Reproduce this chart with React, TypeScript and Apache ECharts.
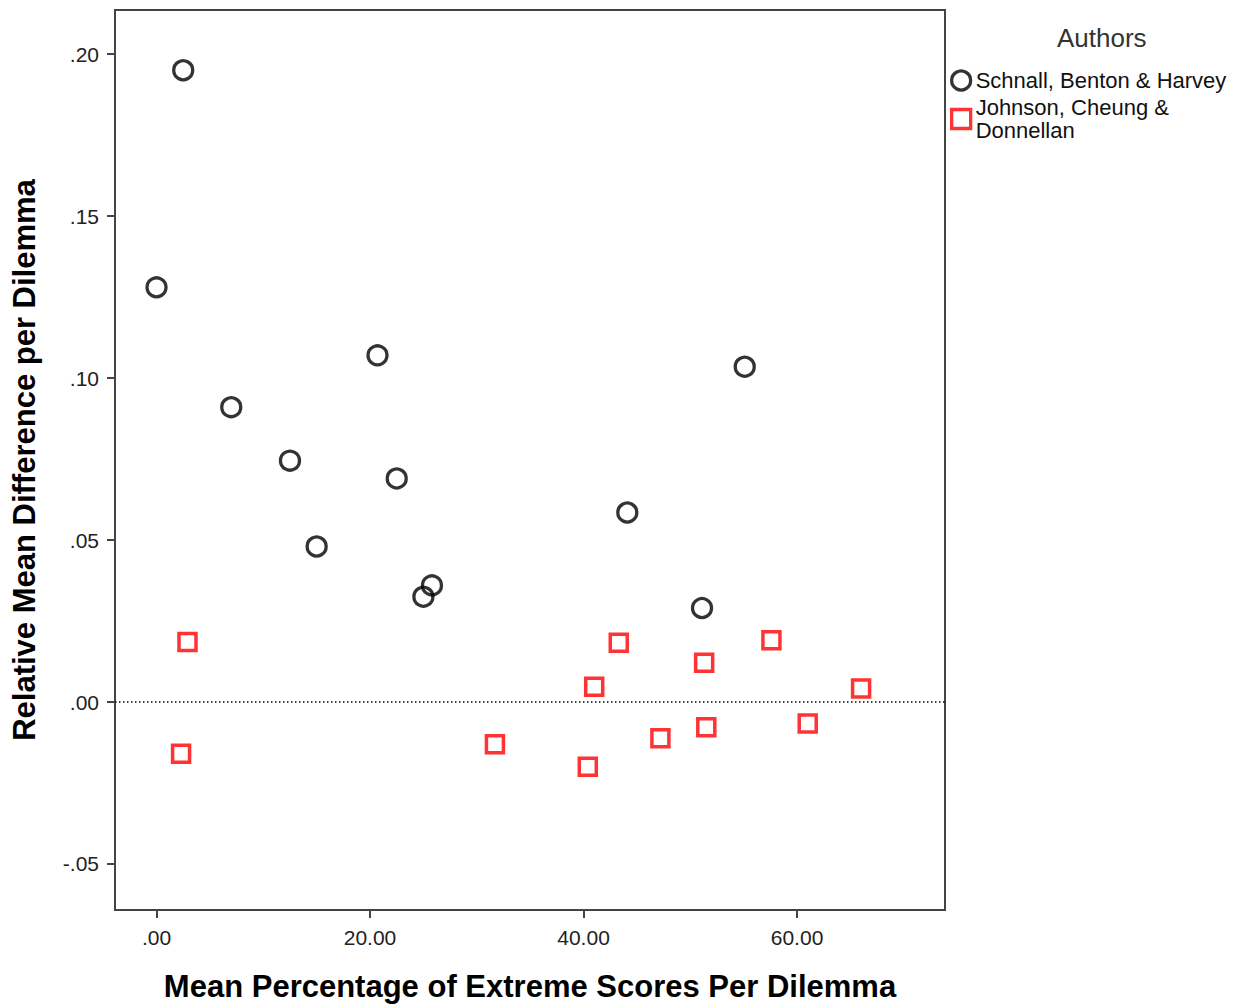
import React, { useEffect, useRef } from "react";
import * as echarts from "echarts";

const seriesNames = ["Schnall, Benton & Harvey", "Johnson, Cheung & Donnellan"];

const schnallX = [2.5, 0.0, 20.7, 7.0, 12.5, 22.5, 15.0, 25.8, 25.0, 55.1, 44.1, 51.1];
const schnallY = [0.195, 0.128, 0.107, 0.091, 0.0745, 0.069, 0.048, 0.036, 0.0325, 0.1035, 0.0585, 0.029];

const johnsonX = [2.9, 2.3, 31.7, 43.3, 57.6, 51.3, 41.0, 66.0, 61.0, 51.5, 47.2, 40.4];
const johnsonY = [0.0185, -0.016, -0.013, 0.0183, 0.0191, 0.0121, 0.0047, 0.0042, -0.0066, -0.0078, -0.0112, -0.02];

const xTicks = [0, 20, 40, 60];
const yTicks = [-0.05, 0, 0.05, 0.1, 0.15, 0.2];

const xTitle = "Mean Percentage of Extreme Scores Per Dilemma";
const yTitle = "Relative Mean Difference per Dilemma";
const legendTitle = "Authors";

const FONT = "'Liberation Sans', Arial, sans-serif";

function fmtY(v: number): string {
  const s = v.toFixed(2);
  return s.replace(/^(-?)0\./, "$1.");
}
function fmtX(v: number): string {
  const s = v.toFixed(2);
  return s.replace(/^0\./, ".");
}

export default function App() {
  const ref = useRef<HTMLDivElement | null>(null);
  useEffect(() => {
    if (!ref.current) return;
    const chart = echarts.init(ref.current, undefined, { renderer: "svg" });
    const axisColor = "#444";
    const option: any = {
      animation: false,
      backgroundColor: "#fff",
      title: {
        text: legendTitle,
        left: 1052,
        top: 20,
        textStyle: { fontFamily: FONT, fontSize: 26, fontWeight: "normal", color: "#333" },
      },
      legend: {
        orient: "vertical",
        left: 945,
        top: 64,
        itemWidth: 19,
        itemHeight: 19,
        itemGap: 4,
        data: [
          {
            name: seriesNames[0],
            icon: "circle",
            itemStyle: { color: "rgba(0,0,0,0)", borderColor: "#000", borderWidth: 3.3 },
          },
          {
            name: seriesNames[1],
            icon: "rect",
            itemStyle: { color: "rgba(0,0,0,0)", borderColor: "#ff0000", borderWidth: 3.3 },
          },
        ],
        formatter: (name: string) =>
          name === seriesNames[1] ? "Johnson, Cheung &\nDonnellan" : name,
        textStyle: { fontFamily: FONT, fontSize: 22, color: "#111", lineHeight: 23 },
      },
      grid: {
        left: 115,
        right: 292,
        top: 10,
        bottom: 98,
        show: true,
        borderColor: axisColor,
        borderWidth: 2,
        containLabel: false,
        outerBoundsMode: "none",
      },
      xAxis: {
        type: "value",
        min: -3.89,
        max: 73.86,
        name: xTitle,
        nameLocation: "middle",
        nameGap: 61,
        nameTextStyle: { fontFamily: FONT, fontSize: 31, fontWeight: "bold", color: "#000" },
        splitLine: { show: false },
        axisLine: { show: true, onZero: false, lineStyle: { color: axisColor, width: 2 } },
        axisTick: { show: true, length: 8, customValues: xTicks, lineStyle: { color: axisColor, width: 2 } },
        axisLabel: {
          customValues: xTicks,
          margin: 17,
          formatter: (v: number) => fmtX(v),
          fontFamily: FONT,
          fontSize: 21,
          color: "#222",
        },
      },
      yAxis: {
        type: "value",
        min: -0.0642,
        max: 0.2136,
        name: yTitle,
        nameLocation: "middle",
        nameGap: 75,
        nameTextStyle: { fontFamily: FONT, fontSize: 31, fontWeight: "bold", color: "#000" },
        splitLine: { show: false },
        axisLine: { show: true, onZero: false, lineStyle: { color: axisColor, width: 2 } },
        axisTick: { show: true, length: 8, customValues: yTicks, lineStyle: { color: axisColor, width: 2 } },
        axisLabel: {
          customValues: yTicks,
          margin: 16,
          formatter: (v: number) => fmtY(v),
          fontFamily: FONT,
          fontSize: 21,
          color: "#222",
        },
      },
      series: [
        {
          name: seriesNames[0],
          type: "scatter",
          symbol: "circle",
          symbolSize: 19,
          data: schnallX.map((x, i) => [x, schnallY[i]]),
          itemStyle: { color: "rgba(0,0,0,0)", borderColor: "#000", borderWidth: 3.3 },
          markLine: {
            silent: true,
            symbol: ["none", "none"],
            label: { show: false },
            lineStyle: { type: [1.5, 2.5], color: "#000", width: 1.5 },
            data: [{ yAxis: 0 }],
          },
          z: 3,
        },
        {
          name: seriesNames[1],
          type: "scatter",
          symbol: "rect",
          symbolSize: 17,
          data: johnsonX.map((x, i) => [x, johnsonY[i]]),
          itemStyle: { color: "rgba(0,0,0,0)", borderColor: "#ff0000", borderWidth: 3.5 },
          z: 3,
        },
      ],
    };
    chart.setOption(option);
    return () => chart.dispose();
  }, []);
  return (
    <div
      ref={ref}
      style={{ position: "fixed", left: 0, top: 0, width: "1237px", height: "1008px" }}
    />
  );
}
